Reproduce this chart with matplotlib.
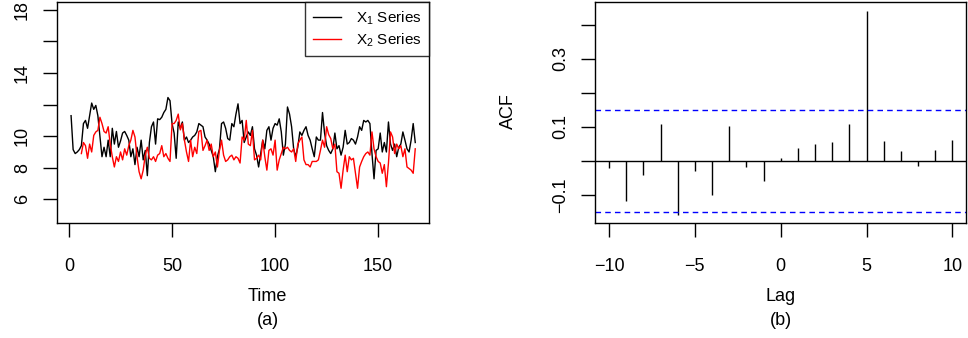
import numpy as np
import matplotlib
matplotlib.use("Agg")
import matplotlib.pyplot as plt

plt.rcParams['font.family'] = ['Liberation Sans', 'DejaVu Sans']
plt.rcParams['mathtext.fontset'] = 'custom'
plt.rcParams['mathtext.rm'] = 'Liberation Sans'
plt.rcParams['mathtext.it'] = 'Liberation Sans'

# X1 series, t = 1..168
x1 = [11.3, 9.15, 8.9, 9.0, 9.15, 9.4, 10.8, 11.0, 10.5, 11.3,
      12.1, 11.7, 11.95, 11.3, 10.0, 8.7, 9.3, 8.7, 9.75, 8.7,
      10.5, 9.5, 10.3, 9.3, 9.7, 10.2, 10.3, 10.05, 9.75, 8.7,
      9.2, 8.2, 9.3, 8.7, 9.75, 8.5, 9.1, 7.5, 9.6, 10.6,
      10.9, 9.5, 11.1, 11.05, 11.2, 11.5, 11.7, 12.45, 12.25, 10.8,
      10.2, 8.6, 10.9, 10.5, 10.9, 9.75, 9.95, 9.6, 9.75, 9.95,
      10.05, 10.27, 10.8, 10.7, 10.6, 9.95, 9.75, 9.5, 9.1, 8.7,
      7.75, 8.7, 9.2, 10.8, 10.9, 10.5, 9.85, 9.75, 10.8, 10.6,
      11.4, 12.05, 10.8, 11.0, 9.6, 9.95, 10.27, 10.05, 10.6, 9.2,
      8.8, 8.05, 8.9, 9.75, 9.2, 10.37, 10.6, 9.75, 10.5, 10.8,
      10.7, 11.1, 10.27, 8.8, 9.5, 11.85, 11.4, 10.6, 9.2, 8.7,
      9.3, 10.27, 10.05, 10.37, 10.6, 10.05, 9.75, 9.2, 8.7, 9.95,
      9.75, 9.75, 11.5, 10.2, 9.4, 9.1, 8.9, 9.2, 10.2, 9.2,
      9.4, 8.8, 9.3, 10.37, 9.5, 9.6, 9.85, 9.75, 9.5, 9.95,
      10.6, 10.37, 11.0, 10.9, 11.0, 10.8, 8.9, 7.3, 9.1, 9.2,
      10.2, 9.0, 9.6, 9.0, 10.9, 9.5, 9.1, 9.5, 8.7, 9.3,
      9.5, 10.27, 9.75, 9.2, 9.0, 9.75, 10.8, 9.6]

# X2 series, t = 6..168
x2 = [8.9, 9.6, 9.4, 8.6, 9.5, 9.0, 10.05, 10.27, 10.37, 11.2,
      10.8, 10.3, 10.2, 10.6, 9.5, 8.7, 8.05, 8.7, 8.4, 9.0,
      8.5, 9.2, 8.8, 9.4, 9.75, 10.37, 9.95, 8.7, 7.75, 7.3,
      7.85, 8.8, 9.3, 8.6, 8.5, 8.7, 8.4, 8.8, 8.9, 9.4,
      8.7, 8.9, 8.6, 8.4, 10.8, 10.8, 11.0, 11.4, 10.4, 10.8,
      9.75, 9.0, 8.4, 9.75, 8.7, 9.3, 8.9, 10.3, 10.37, 9.1,
      9.4, 9.75, 9.1, 9.5, 8.7, 9.0, 8.05, 9.1, 9.75, 8.8,
      8.4, 8.5, 8.7, 8.8, 8.5, 8.7, 8.6, 8.3, 9.95, 9.75,
      11.0, 9.5, 9.4, 10.37, 8.5, 8.6, 8.8, 8.5, 9.75, 8.7,
      7.85, 9.1, 9.2, 8.8, 9.75, 7.85, 8.5, 8.9, 9.3, 9.2,
      9.3, 9.1, 9.0, 9.2, 8.4, 9.5, 9.75, 9.95, 8.5, 8.2,
      8.2, 8.05, 8.4, 8.4, 8.4, 8.5, 9.1, 9.75, 9.3, 10.6,
      10.1, 9.85, 9.2, 9.5, 7.75, 7.65, 6.7, 7.85, 8.8, 7.75,
      8.7, 8.5, 8.6, 7.65, 6.7, 8.05, 8.4, 8.7, 8.9, 9.0,
      8.8, 10.27, 9.2, 8.7, 8.4, 8.3, 7.65, 8.2, 6.8, 8.3,
      10.27, 9.95, 8.9, 9.5, 9.2, 9.4, 8.7, 9.2, 8.05, 7.95,
      7.85, 7.65, 9.2]

lags = list(range(-10, 11))
acf = [-0.020, -0.116, -0.040, 0.110, -0.160, -0.028, -0.100, 0.104, -0.019, -0.058,
       0.009, 0.039, 0.049, 0.056, 0.108, 0.442, 0.060, 0.030, -0.014, 0.032, 0.062]
n_obs = 168
clim = 1.96 / np.sqrt(n_obs)

t1 = np.arange(1, len(x1) + 1)
t2 = np.arange(n_obs - len(x2) + 1, n_obs + 1)

fig = plt.figure(figsize=(9.68, 3.38), dpi=100)
ax1 = fig.add_axes([0.0592, 0.3393, 0.384, 0.6556])
ax2 = fig.add_axes([0.615, 0.3393, 0.383, 0.6556])

fs = 13

# panel (a)
ax1.plot(t1, x1, color='black', lw=1.0, label='X$_1$ Series')
ax1.plot(t2, x2, color='red', lw=1.0, label='X$_2$ Series')
ax1.set_xlim(-5.68, 174.68)
ax1.set_ylim(4.48, 18.52)
ax1.set_xticks([0, 50, 100, 150])
ax1.set_yticks([6, 8, 10, 12, 14, 16, 18])
ax1.set_yticklabels(['6', '8', '10', '', '14', '', '18'], rotation=90, va='center')
leg = ax1.legend(loc='upper right', fontsize=11, frameon=True, fancybox=False,
                 edgecolor='black', borderaxespad=0, handlelength=1.8,
                 borderpad=0.5, labelspacing=0.3, handletextpad=1.0)
leg.get_frame().set_linewidth(1.0)

# panel (b)
ax2.vlines(lags, 0, acf, color='black', lw=1.0)
ax2.axhline(0, color='black', lw=1.0)
ax2.axhline(clim, color='blue', lw=1.0, ls=(0, (4, 3)))
ax2.axhline(-clim, color='blue', lw=1.0, ls=(0, (4, 3)))
ax2.set_xlim(-10.8, 10.8)
ax2.set_ylim(-0.183, 0.468)
ax2.set_xticks([-10, -5, 0, 5, 10])
ax2.set_yticks([-0.1, 0.0, 0.1, 0.2, 0.3, 0.4])
ax2.set_yticklabels(['\u22120.1', '', '0.1', '', '0.3', ''], rotation=90, va='center')

for ax in (ax1, ax2):
    for s in ax.spines.values():
        s.set_linewidth(1.0)
    ax.tick_params(axis='both', length=10, width=1.0, labelsize=fs, pad=15)
    ax.tick_params(axis='y', pad=9)

fig.text(0.2765, 0.122, 'Time', ha='center', va='center', fontsize=fs)
fig.text(0.2765, 0.053, '(a)', ha='center', va='center', fontsize=fs)
fig.text(0.8065, 0.122, 'Lag', ha='center', va='center', fontsize=fs)
fig.text(0.8065, 0.053, '(b)', ha='center', va='center', fontsize=fs)
fig.text(0.525, 0.67, 'ACF', ha='center', va='center', rotation=90, fontsize=fs)

fig.savefig('out.png', dpi=100)
